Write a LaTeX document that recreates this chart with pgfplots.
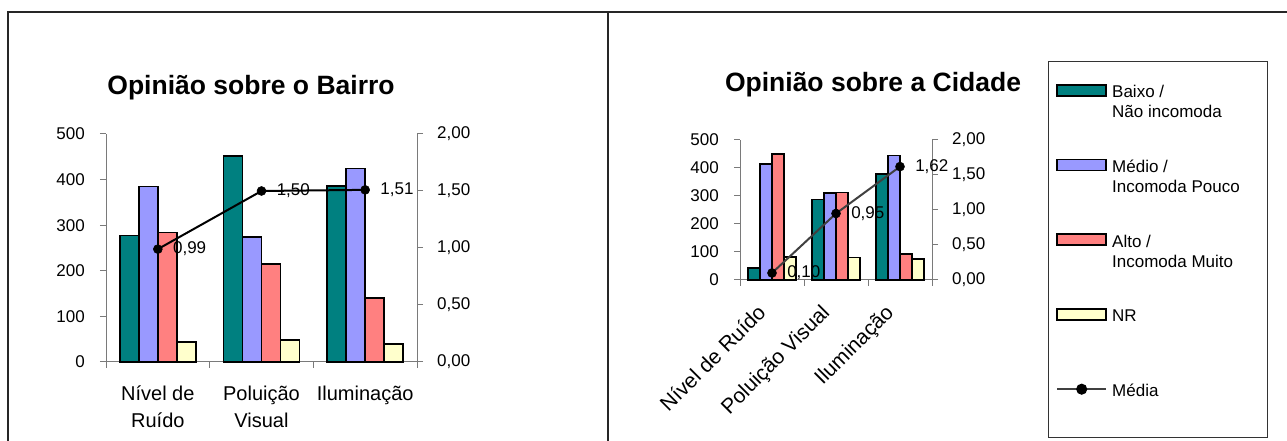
\documentclass[border=0pt]{standalone}
\usepackage{fontspec}
\setmainfont{Liberation Sans}
\usepackage{pgfplots}
\pgfplotsset{compat=1.18}

\definecolor{baixo}{HTML}{008080}
\definecolor{medio}{HTML}{9999FF}
\definecolor{alto}{HTML}{FF8080}
\definecolor{nr}{HTML}{FFFFCC}
\definecolor{axisgray}{HTML}{7A7A7A}

\newcommand{\lbl}{\fontsize{17}{20}\selectfont}
\newcommand{\cat}{\fontsize{20}{27}\selectfont}
\newcommand{\ttl}{\fontsize{26.5}{30}\selectfont\bfseries}
% legend text: first line carries the row, the rest hangs below
\newcommand{\entry}[1]{\raisebox{0pt}[15pt][0pt]{\parbox[t]{150pt}{#1}}}

\pgfplotsset{
  excel/.style={
    scale only axis,
    xmin=-0.5, xmax=2.5,
    enlargelimits=false,
    clip=false,
    tick align=outside,
    major tick length=6pt,
    axis line style={-, draw=axisgray, line width=1pt},
    every tick/.style={draw=axisgray, line width=1pt},
    tick label style={font=\lbl},
    /pgf/number format/assume math mode=true,
  },
  barsaxis/.style={
    excel,
    axis y line*=left, axis x line*=bottom,
    ymin=0, ymax=500, ytick={0,100,200,300,400,500},
    xtick={-0.5,0.5,1.5,2.5},
    x tick label as interval,
    yticklabel style={inner sep=0pt, xshift=-15pt},
    bar width=#1,
  },
  meanaxis/.style={
    excel,
    axis y line*=right, axis x line=none,
    ymin=0, ymax=2, ytick={0,0.5,1,1.5,2},
    yticklabel style={inner sep=0pt, xshift=14pt,
      /pgf/number format/.cd, fixed, fixed zerofill, precision=2, use comma},
  },
  bar/.style={ybar, draw=black, line width=1.6pt, fill=#1},
  meanline/.style={
    draw=#1, line width=2pt, mark=*, mark size=4.5pt,
    mark options={fill=black, draw=black, line width=0.5pt},
    point meta=y,
    nodes near coords={\pgfmathprintnumber[fixed,fixed zerofill,precision=2,use comma]{\pgfplotspointmeta}},
    every node near coord/.append style={anchor=west, xshift=15pt, inner sep=0pt, font=\lbl, text=black},
  },
  swatch legend/.style={
    legend image code/.code={\draw[##1, line width=1.6pt] (0pt,2pt) rectangle (49pt,13pt);}},
  mean legend/.style={
    legend image code/.code={\draw[mark repeat=2, mark phase=2, ##1] plot coordinates {(0pt,7.5pt) (24.5pt,7.5pt) (49pt,7.5pt)};}},
}

\begin{document}
\begin{tikzpicture}
\useasboundingbox (0,0) rectangle (1287pt,441pt);

% frames around the two charts
\draw[line width=1.6pt, black!85] (8pt,-2pt) -- (8pt,429pt) -- (1290pt,429pt);
\draw[line width=1.6pt, black!85] (608pt,-2pt) -- (608pt,429pt);

% ---------------- Opinião sobre o Bairro ----------------
\node[anchor=base, font=\ttl] at (251pt,346pt) {Opinião sobre o Bairro};

\begin{axis}[barsaxis=0.1833,
  at={(106pt,79pt)}, anchor=south west, width=311pt, height=228pt,
  xticklabels={{Nível de\\Ruído},{Poluição\\Visual},{Iluminação}},
  xticklabel style={align=center, anchor=north, inner sep=0pt, yshift=-18pt, font=\cat},
]
\addplot[bar=baixo, bar shift=-0.275]   coordinates {(0,277) (1,452) (2,386)};
\addplot[bar=medio, bar shift=-0.0917]  coordinates {(0,385) (1,274) (2,424)};
\addplot[bar=alto,  bar shift=0.0917]   coordinates {(0,284) (1,215) (2,140)};
\addplot[bar=nr,    bar shift=0.275]    coordinates {(0,44) (1,48) (2,39)};
\end{axis}

\begin{axis}[meanaxis,
  at={(106pt,79pt)}, anchor=south west, width=311pt, height=228pt,
]
\addplot[meanline=black] coordinates {(0,0.99) (1,1.50) (2,1.51)};
\end{axis}

% ---------------- Opinião sobre a Cidade ----------------
\node[anchor=base, font=\ttl] at (873pt,349pt) {Opinião sobre a Cidade};

\begin{axis}[barsaxis=0.1875,
  at={(740pt,161pt)}, anchor=south west, width=192pt, height=140pt,
  xticklabels={{Nível de Ruído},{Poluição Visual},{Iluminação}},
  xticklabel style={xshift=-16pt, yshift=-17pt, rotate=45, anchor=north east,
    inner sep=0pt, font=\fontsize{21}{24}\selectfont},
  legend style={at={(axis description cs:1.6458,1.4107)}, anchor=north west,
    draw=none, fill=none, inner sep=0pt, column sep=5pt, row sep=58.25pt,
    font=\lbl, cells={anchor=base west}, nodes={inner sep=0pt}},
  swatch legend,
]
\addplot[bar=baixo, bar shift=-0.28125] coordinates {(0,42) (1,288) (2,379)};
\addlegendentry{\entry{Baixo /\\Não incomoda}}
\addplot[bar=medio, bar shift=-0.09375] coordinates {(0,414) (1,311) (2,444)};
\addlegendentry{\entry{Médio /\\Incomoda Pouco}}
\addplot[bar=alto,  bar shift=0.09375]  coordinates {(0,451) (1,312) (2,92)};
\addlegendentry{\entry{Alto /\\Incomoda Muito}}
\addplot[bar=nr,    bar shift=0.28125]  coordinates {(0,82) (1,80) (2,75)};
\addlegendentry{\entry{NR}}
\addlegendimage{black!75, line width=2pt, mark=*, mark size=4.5pt,
  mark options={fill=black, draw=black}, mean legend}
\addlegendentry{\entry{Média}}
\end{axis}

\begin{axis}[meanaxis,
  at={(740pt,161pt)}, anchor=south west, width=192pt, height=140pt,
]
\addplot[meanline=black!75] coordinates {(0,0.10) (1,0.95) (2,1.62)};
\end{axis}

% legend frame
\draw[line width=1pt, black!80] (1048pt,379pt) rectangle (1267pt,3.5pt);
\end{tikzpicture}
\end{document}
